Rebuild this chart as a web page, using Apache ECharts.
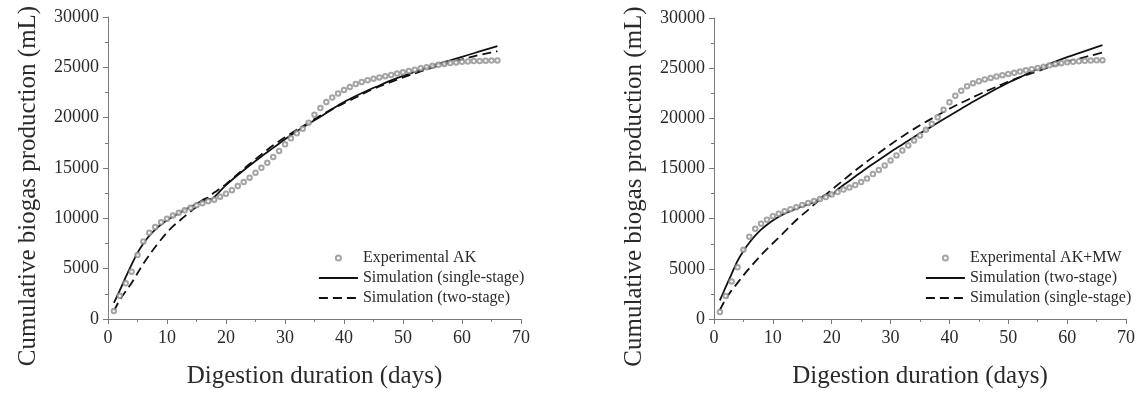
<!DOCTYPE html>
<html>
<head>
<meta charset="utf-8">
<script src="https://cdn.jsdelivr.net/npm/echarts@6/dist/echarts.min.js"></script>
<style>
html,body{margin:0;padding:0;background:#fff;}
#chart{width:1140px;height:394px;}
</style>
</head>
<body>
<div id="chart"></div>
<script>
// ---------- DATA ----------
const expDays = [1,2,3,4,5,6,7,8,9,10,11,12,13,14,15,16,17,18,19,20,21,22,23,24,25,26,27,28,29,30,31,32,33,34,35,36,37,38,39,40,41,42,43,44,45,46,47,48,49,50,51,52,53,54,55,56,57,58,59,60,61,62,63,64,65,66];

// Left panel: Experimental AK
const expAK = [800,2300,3550,4700,6350,7700,8580,9130,9600,9950,10280,10550,10800,11050,11300,11500,11700,11850,12150,12450,12800,13200,13600,14040,14530,15020,15510,16100,16700,17350,17950,18450,18900,19500,20300,20950,21550,22000,22400,22750,23050,23350,23550,23720,23870,24000,24120,24250,24380,24500,24640,24770,24900,25020,25150,25250,25340,25420,25490,25550,25590,25620,25640,25660,25670,25680];

const simL_singleDays = [1,2,3,4,5,6,7,8,9,10,11,12,13,14,15,16,16.7,17.6,18,19,20,22,24,26,28,30,32,34,36,38,40,42,44,46,48,50,52,54,56,58,60,62,64,66];
const simL_single = [1600,2850,4150,5400,6570,7500,8270,8880,9380,9800,10180,10500,10830,11150,11450,11800,12000,11880,12100,12700,13300,14300,15250,16150,17000,17850,18650,19400,20100,20850,21550,22150,22700,23200,23700,24150,24550,24950,25350,25700,26050,26400,26750,27100];

const simL_twoDays = [1,2,3,4,5,6,7,8,9,10,11,12,13,14,15,16,17,18,19,20,22,24,26,28,30,32,34,36,38,40,42,44,46,48,50,52,54,56,58,60,62,64,66];
const simL_two = [800,1900,2750,3570,4550,5500,6350,7150,7900,8600,9200,9700,10200,10680,11150,11630,12100,12560,12970,13400,14400,15400,16350,17250,18050,18800,19500,20200,20850,21450,22000,22600,23100,23550,24000,24400,24800,25150,25500,25800,26100,26350,26600];

// Right panel: Experimental AK+MW
const expAKMW = [700,2300,3750,5150,6900,8200,9000,9500,9900,10250,10500,10750,10950,11150,11350,11550,11750,11950,12150,12400,12650,12900,13100,13350,13650,14000,14450,14850,15300,15800,16300,16800,17300,17800,18300,18850,19450,20100,20850,21600,22250,22750,23200,23500,23700,23880,24030,24170,24300,24420,24540,24660,24780,24900,25020,25150,25280,25400,25500,25580,25640,25690,25730,25760,25780,25800];

const simR_twoDays = [1,2,3,4,5,6,7,8,9,10,11,12,13,14,15,16,17,18,18.8,19.8,21,22,24,26,28,30,32,34,36,38,40,42,44,46,48,50,52,54,56,58,60,62,64,66];
const simR_two = [1850,3200,4500,5800,6780,7600,8300,8900,9400,9820,10200,10500,10780,11000,11220,11430,11650,11950,12350,12300,12900,13350,14200,15050,15850,16650,17400,18150,18850,19550,20250,20950,21650,22300,22950,23550,24100,24650,25150,25650,26100,26500,26900,27300];

const simR_singleDays = [1,2,3,4,5,6,7,8,9,10,11,12,13,14,15,16,17,18,19,20,22,24,26,28,30,32,34,36,38,40,42,44,46,48,50,52,54,56,58,60,62,64,66];
const simR_single = [900,2000,2850,3600,4350,5050,5720,6370,6970,7550,8120,8700,9300,9870,10380,10880,11400,11900,12400,12880,13850,14800,15700,16550,17400,18200,18950,19650,20300,20950,21550,22100,22650,23150,23650,24100,24500,24900,25300,25650,25950,26250,26550];

const xTicks = {min:0, max:70, interval:10};
const yTicks = {min:0, max:30000, interval:5000};

const legendLeft = ['Experimental AK','Simulation (single-stage)','Simulation (two-stage)'];
const legendRight = ['Experimental AK+MW','Simulation (two-stage)','Simulation (single-stage)'];

// ---------- STYLE ----------
const SERIF = 'Liberation Serif, Times New Roman, serif';
const AXIS_COLOR = '#7a7a7a';
const TEXT_COLOR = '#2a2a2a';
const LINE_COLOR = '#111111';
const DASH = [9,5];

function zip(xs, ys){ return xs.map((x,i)=>[x, ys[i]]); }

function xAxisCfg(idx){
  return {
    type:'value', gridIndex:idx, min:xTicks.min, max:xTicks.max, interval:xTicks.interval,
    name:'Digestion duration (days)', nameLocation:'middle', nameGap:45,
    nameTextStyle:{fontFamily:SERIF, fontSize:25, color:TEXT_COLOR},
    axisLine:{show:true, onZero:false, lineStyle:{color:AXIS_COLOR, width:1}},
    axisTick:{show:true, length:5, lineStyle:{color:AXIS_COLOR}},
    minorTick:{show:true, splitNumber:2, length:3, lineStyle:{color:AXIS_COLOR}},
    splitLine:{show:false},
    axisLabel:{fontFamily:SERIF, fontSize:18, color:TEXT_COLOR, margin:10, formatter:v=>String(v)}
  };
}
function yAxisCfg(idx){
  return {
    type:'value', gridIndex:idx, min:yTicks.min, max:yTicks.max, interval:yTicks.interval,
    name:'Cumulative biogas production (mL)', nameLocation:'middle', nameGap:67,
    nameTextStyle:{fontFamily:SERIF, fontSize:25, color:TEXT_COLOR, padding:[0,36,0,0]},
    axisLine:{show:true, onZero:false, lineStyle:{color:AXIS_COLOR, width:1}},
    axisTick:{show:true, length:5, lineStyle:{color:AXIS_COLOR}},
    minorTick:{show:true, splitNumber:2, length:3, lineStyle:{color:AXIS_COLOR}},
    splitLine:{show:false},
    axisLabel:{fontFamily:SERIF, fontSize:18, color:TEXT_COLOR, margin:9, formatter:v=>String(v)}
  };
}
function scatterSeries(name, idx, ys){
  return {type:'scatter', name:name, xAxisIndex:idx, yAxisIndex:idx,
    symbol:'emptyCircle', symbolSize:4.5,
    itemStyle:{color:'#8f8f8f', borderWidth:0.9},
    data:zip(expDays, ys), z:3};
}
function lineSeries(name, idx, xs, ys, dashed){
  return {type:'line', name:name, xAxisIndex:idx, yAxisIndex:idx,
    symbol:'none', showSymbol:false, smooth:0.3,
    lineStyle:{color:LINE_COLOR, width:1.8, type: dashed ? DASH : 'solid'},
    itemStyle:{color:LINE_COLOR},
    data:zip(xs, ys), z:2};
}
function legendCfg(left, names, dashedName){
  return {
    orient:'vertical', left:left, top:243, itemWidth:39, itemHeight:5, itemGap:0,
    textStyle:{fontFamily:SERIF, fontSize:16, color:TEXT_COLOR, lineHeight:20},
    selectedMode:false,
    data: names.map((n,i)=> i===0 ? {name:n, itemStyle:{borderWidth:1}} :
      {name:n, itemStyle:{opacity:0}, lineStyle:{type: n===dashedName ? DASH : 'solid', width:1.8, color:LINE_COLOR}})
  };
}

const chart = echarts.init(document.getElementById('chart'), null, {renderer:'canvas'});
chart.setOption({
  animation:false,
  backgroundColor:'#ffffff',
  grid:[
    {left:108, top:17, width:413, height:306},
    {left:714, top:18, width:412, height:305}
  ],
  xAxis:[xAxisCfg(0), xAxisCfg(1)],
  yAxis:[yAxisCfg(0), yAxisCfg(1)],
  legend:[
    legendCfg(313, legendLeft, 'Simulation (two-stage)'),
    legendCfg(920, legendRight, 'Simulation (single-stage)')
  ],
  series:[
    scatterSeries('Experimental AK', 0, expAK),
    lineSeries('Simulation (single-stage)', 0, simL_singleDays, simL_single, false),
    lineSeries('Simulation (two-stage)', 0, simL_twoDays, simL_two, true),
    scatterSeries('Experimental AK+MW', 1, expAKMW),
    lineSeries('Simulation (two-stage)', 1, simR_twoDays, simR_two, false),
    lineSeries('Simulation (single-stage)', 1, simR_singleDays, simR_single, true)
  ]
});
</script>
</body>
</html>
